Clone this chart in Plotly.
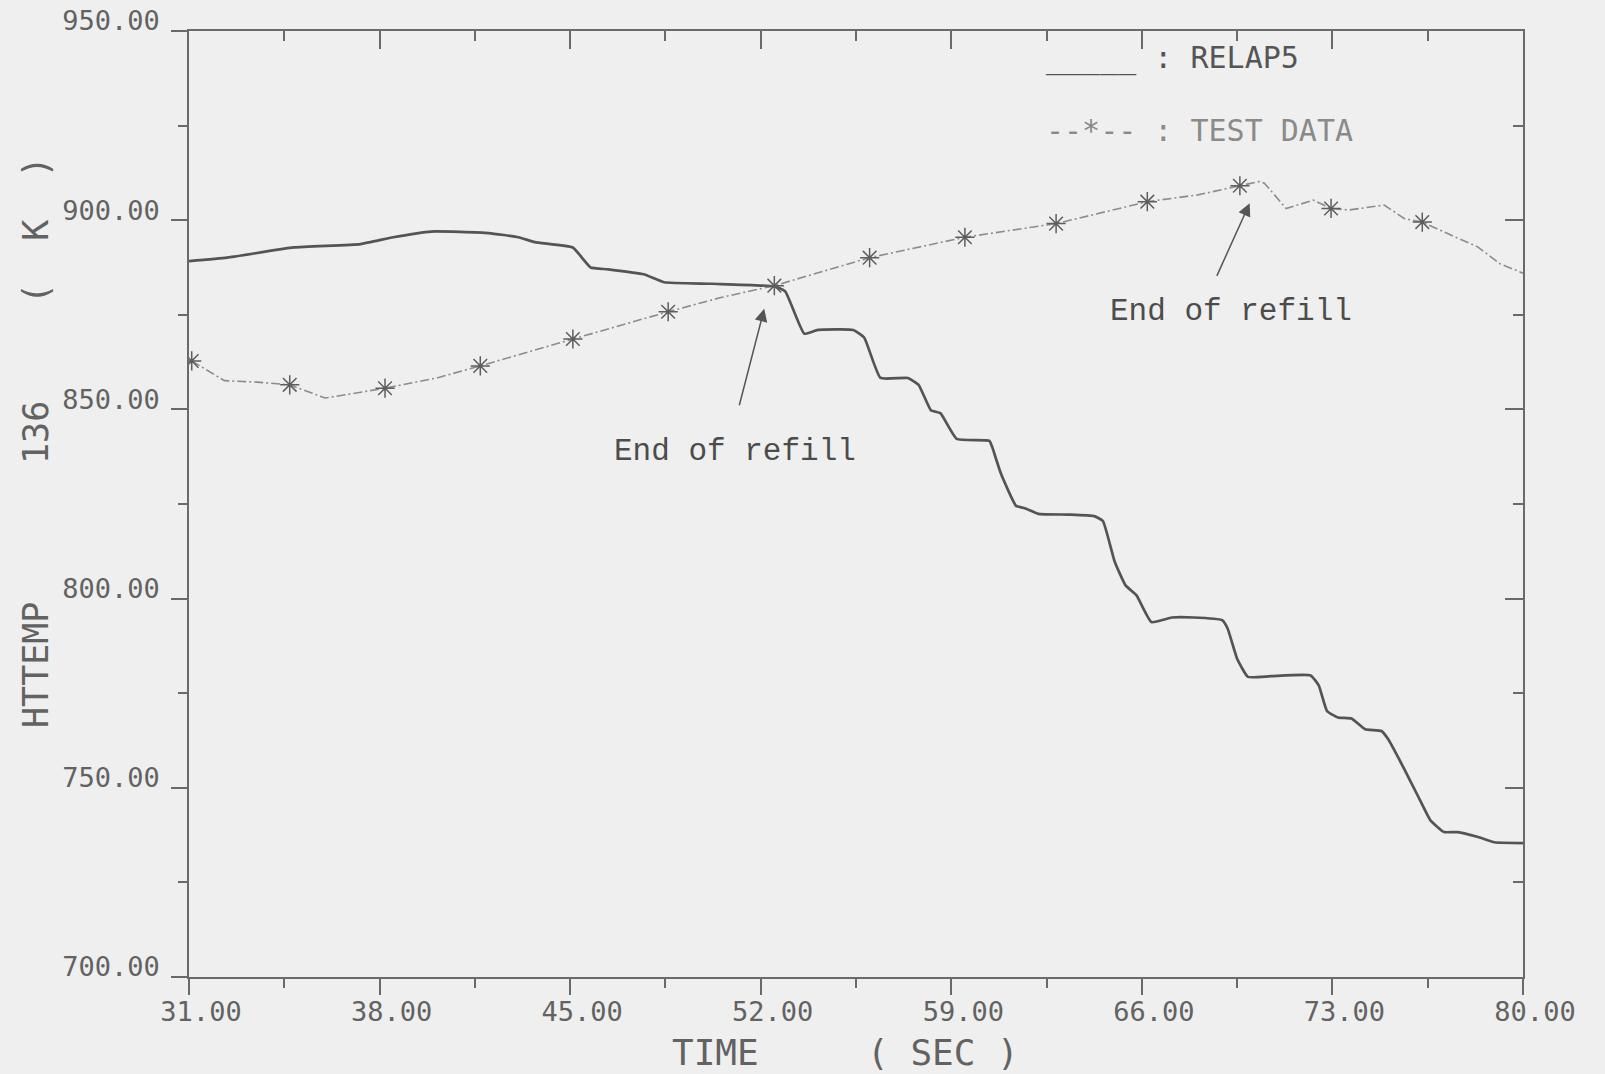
import plotly.graph_objects as go

# RELAP5 calculated heater temperature (K) versus time (s)
relap_t = [31.0, 32.4, 34.85, 37.3, 38.5, 39.9, 42.0, 43.1, 43.7, 45.1, 45.5, 45.75,
           46.4, 47.7, 48.45, 50.2, 52.5, 52.9, 53.6, 54.1, 55.4, 55.8, 56.4, 57.4,
           57.8, 58.25, 58.6, 59.2, 60.4, 60.5, 60.83, 61.38, 61.7, 62.2, 63.3, 64.25,
           64.57, 65.0, 65.4, 65.8, 66.35, 67.1, 67.9, 68.95, 69.15, 69.5, 69.9, 70.75,
           72.2, 72.5, 72.8, 73.2, 73.7, 74.2, 74.8, 75.05, 75.65, 76.15, 76.6, 77.1,
           77.6, 78.35, 78.95, 80.0]
relap_T = [889.2, 890.1, 892.8, 893.7, 895.5, 897.0, 896.6, 895.5, 894.2, 892.8, 889.5, 887.5,
           887.0, 885.7, 883.6, 883.2, 882.5, 881.2, 870.0, 871.0, 871.0, 869.0, 858.3, 858.3,
           856.5, 849.8, 849.0, 842.2, 841.7, 840.1, 832.9, 824.5, 823.9, 822.4, 822.2, 821.8,
           820.5, 809.8, 803.5, 800.9, 793.8, 795.0, 795.0, 794.3, 792.1, 784.1, 779.3, 779.5,
           779.7, 777.0, 770.3, 768.6, 768.3, 765.5, 765.0, 762.8, 754.8, 747.7, 741.4, 738.3,
           738.3, 737.0, 735.6, 735.4]

# Measured test data
test_t = [31.1, 32.3, 33.5, 34.7, 36.0, 38.2, 40.1, 41.7, 45.1, 48.6, 50.5, 52.5,
          56.0, 59.5, 62.85, 66.2, 68.06, 69.6, 70.3, 70.5, 71.3, 72.3, 72.95, 73.6,
          74.9, 75.65, 76.3, 77.25, 78.35, 79.15, 80.0]
test_T = [862.8, 857.6, 857.2, 856.5, 853.0, 855.6, 858.3, 861.5, 868.6, 875.8, 879.5, 882.7,
          890.1, 895.5, 899.1, 904.9, 906.7, 909.1, 910.2, 909.8, 903.1, 905.3, 903.1, 902.7,
          904.0, 900.4, 899.5, 896.4, 892.9, 888.5, 886.0]

# Test data points carrying the star symbol
star_t = [31.1, 34.7, 38.2, 41.7, 45.1, 48.6, 52.5, 56.0, 59.5, 62.85, 66.2, 69.6, 72.95, 76.3]
star_T = [862.8, 856.5, 855.6, 861.5, 868.6, 875.8, 882.7, 890.1, 895.5, 899.1, 904.9, 909.1, 903.1, 899.5]

x_range = [31, 80]
y_range = [700, 950]
x_major, x_minor = 7, 3.5
y_major, y_minor = 50, 25

# "End of refill" notes: text position, arrow head and arrow tail (data units)
refill_text = [(51.05, 838.8), (69.27, 876.0)]
refill_head = [(52.13, 876.6), (69.96, 904.5)]
refill_tail = [(51.2, 850.7), (68.73, 884.9)]

W, H = 1605, 1074
L, R, T, B = 189, 1523, 31, 977


def px(xp):
    return (xp - L) / (R - L)


def py(yp):
    return (B - yp) / (B - T)


INK = "#545454"
AXIS = "#6a6a6a"
LIGHT = "#8c8c8c"
PLOT_FONT = "DejaVu Sans Mono"

fig = go.Figure()

fig.add_trace(go.Scatter(
    x=test_t, y=test_T, mode="lines",
    line=dict(color=LIGHT, width=1.6, dash="9px,3px,2px,3px"),
    showlegend=False, hoverinfo="skip"))
# the stars sit on the mirrored (top/right) axes, which share the same ranges
fig.add_trace(go.Scatter(
    x=star_t, y=star_T, mode="markers", xaxis="x2", yaxis="y2",
    marker=dict(symbol="asterisk-open", size=16, color="#5e5e5e",
                line=dict(width=1.5, color="#5e5e5e")),
    showlegend=False))
fig.add_trace(go.Scatter(
    x=relap_t, y=relap_T, mode="lines",
    line=dict(color=INK, width=2.7, shape="spline", smoothing=0.4),
    showlegend=False))

tick_font = dict(family=PLOT_FONT, size=27, color="#626262")

fig.update_layout(
    width=W, height=H,
    margin=dict(l=L, r=W - R, t=T, b=H - B, pad=0),
    paper_bgcolor="#efefef", plot_bgcolor="#efefef",
    showlegend=False,
    xaxis=dict(
        range=x_range, tickmode="linear", tick0=x_range[0], dtick=x_major,
        tickformat=".2f", ticks="outside", ticklen=16, tickwidth=1.5, tickcolor=AXIS,
        showline=True, linecolor=AXIS, linewidth=1.5, showgrid=False, zeroline=False,
        tickfont=tick_font, ticklabelshift=12, ticklabelstandoff=-6, automargin=False,
        minor=dict(tick0=x_range[0], dtick=x_minor, ticks="outside", ticklen=9,
                   tickwidth=1.5, tickcolor=AXIS, showgrid=False),
    ),
    yaxis=dict(
        range=y_range, tickmode="linear", tick0=y_range[0], dtick=y_major,
        tickformat=".2f", ticks="outside", ticklen=16, tickwidth=1.5, tickcolor=AXIS,
        showline=True, linecolor=AXIS, linewidth=1.5, showgrid=False, zeroline=False,
        tickfont=tick_font, ticklabelshift=-10, ticklabelstandoff=6, automargin=False,
        minor=dict(tick0=y_range[0], dtick=y_minor, ticks="outside", ticklen=9,
                   tickwidth=1.5, tickcolor=AXIS, showgrid=False),
    ),
    xaxis2=dict(
        overlaying="x", side="top", anchor="y2", range=x_range,
        tickmode="linear", tick0=x_range[0], dtick=x_major,
        ticks="inside", ticklen=18, tickwidth=1.5, tickcolor=AXIS,
        showline=True, linecolor=AXIS, linewidth=1.5, showgrid=False, zeroline=False,
        showticklabels=False, automargin=False,
        minor=dict(tick0=x_range[0], dtick=x_minor, ticks="inside", ticklen=10,
                   tickwidth=1.5, tickcolor=AXIS, showgrid=False),
    ),
    yaxis2=dict(
        overlaying="y", side="right", anchor="x2", range=y_range,
        tickmode="linear", tick0=y_range[0], dtick=y_major,
        ticks="inside", ticklen=18, tickwidth=1.5, tickcolor=AXIS,
        showline=True, linecolor=AXIS, linewidth=1.5, showgrid=False, zeroline=False,
        showticklabels=False, automargin=False,
        minor=dict(tick0=y_range[0], dtick=y_minor, ticks="inside", ticklen=10,
                   tickwidth=1.5, tickcolor=AXIS, showgrid=False),
    ),
)

annotations = []

# axis titles
annotations.append(dict(
    text="TIME     ( SEC )", x=px(845), y=py(1052), xref="paper", yref="paper",
    showarrow=False, xanchor="center", yanchor="middle",
    font=dict(family=PLOT_FONT, size=36, color="#626262")))
for label, yc in [("HTTEMP", 665), ("136", 433), ("(  K  )", 230)]:
    annotations.append(dict(
        text=label, x=px(36), y=py(yc), xref="paper", yref="paper",
        showarrow=False, xanchor="center", yanchor="middle", textangle=-90,
        font=dict(family=PLOT_FONT, size=35, color="#626262")))

# legend
annotations.append(dict(
    text="_____ : RELAP5", x=px(1044), y=py(58), xref="paper", yref="paper",
    showarrow=False, xanchor="left", yanchor="middle",
    font=dict(family=PLOT_FONT, size=30, color="#555555")))
annotations.append(dict(
    text="--*-- : TEST DATA", x=px(1044), y=py(131), xref="paper", yref="paper",
    showarrow=False, xanchor="left", yanchor="middle",
    font=dict(family=PLOT_FONT, size=30, color="#8a8a8a")))

# "End of refill" notes with arrows
for (tx, ty), (hx, hy), (ax, ay) in zip(refill_text, refill_head, refill_tail):
    annotations.append(dict(
        text="End of refill", x=tx, y=ty, xref="x", yref="y", showarrow=False,
        xanchor="center", yanchor="middle",
        font=dict(family="Liberation Mono, Courier New, monospace", size=31, color="#4c4c4c")))
    annotations.append(dict(
        text="", x=hx, y=hy, ax=ax, ay=ay, xref="x", yref="y", axref="x", ayref="y",
        showarrow=True, arrowhead=2, arrowsize=1.7, arrowwidth=1.5, arrowcolor="#555555"))

fig.update_layout(annotations=annotations)

fig.write_html("out.html")
